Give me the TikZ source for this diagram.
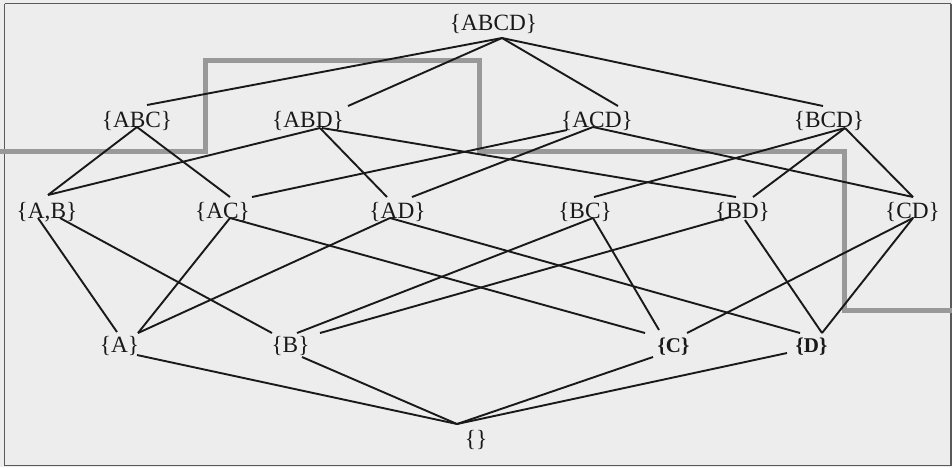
\documentclass[tikz,border=0pt]{standalone}
\usepackage{fontspec}
\setmainfont{Liberation Serif}
\begin{document}
\begin{tikzpicture}[x=1pt,y=-1pt,
  set/.style={inner sep=0pt,anchor=base,text=black!90,font=\fontsize{23.3}{28}\selectfont},
  single/.style={inner sep=0pt,anchor=base,text=black!90,font=\fontsize{21}{25}\selectfont\bfseries},
  link/.style={line width=1.9pt,draw=black!90},
  cut/.style={line width=5pt,draw=black!40},
  frame/.style={line width=1.2pt,draw=black!65}]
\useasboundingbox (0,0) rectangle (952,467);
\fill[black!7] (0,0) rectangle (952,467);
\draw[frame] (4.5,3.5) -- (951,3.5);
\draw[frame] (4.5,3.5) -- (4.5,465.5) -- (951,465.5) -- (951,3.5);

% separating cut through the lattice
\draw[cut] (0,151) -- (205,151) -- (205,60) -- (479,60) -- (479,151)
  -- (844,151) -- (844,310) -- (952,310);

% lattice of subsets
\node[set] (abcd) at (493.5,30) {\{ABCD\}};
\node[set] (abc) at (137,127) {\{ABC\}};
\node[set] (abd) at (308,127) {\{ABD\}};
\node[set] (acd) at (597,127) {\{ACD\}};
\node[set] (bcd) at (829,127) {\{BCD\}};
\node[set] (ab) at (47,218) {\{A,B\}};
\node[set] (ac) at (222.5,218) {\{AC\}};
\node[set] (ad) at (397.5,218) {\{AD\}};
\node[set] (bc) at (585,218) {\{BC\}};
\node[set] (bd) at (742.5,218) {\{BD\}};
\node[set] (cd) at (912.5,218) {\{CD\}};
\node[set] (a) at (119.5,352) {\{A\}};
\node[set] (b) at (290.5,352) {\{B\}};
\node[single] (c) at (673.5,352) {\{C\}};
\node[single] (d) at (811.5,352) {\{D\}};
\node[set] (e) at (476,446) {\{\}};

% top to three-element sets
\draw[link] ([shift={(8.5,8)}]abcd.base) -- ([shift={(10,-22)}]abc.base);
\draw[link] ([shift={(8.5,8)}]abcd.base) -- ([shift={(40,-21)}]abd.base);
\draw[link] ([shift={(8.5,8)}]abcd.base) -- ([shift={(21,-21)}]acd.base);
\draw[link] ([shift={(8.5,8)}]abcd.base) -- ([shift={(-6,-21)}]bcd.base);

% three-element sets to pairs
\draw[link] (abc.base) -- ([shift={(1,-23)}]ab.base);
\draw[link] (abc.base) -- ([shift={(7.5,-21)}]ac.base);
\draw[link] ([shift={(12,1)}]abd.base) -- ([shift={(1,-23)}]ab.base);
\draw[link] ([shift={(12,1)}]abd.base) -- ([shift={(-10.5,-21)}]ad.base);
\draw[link] ([shift={(14,1)}]abd.base) -- ([shift={(-6.5,-21)}]bd.base);
\draw[link] ([shift={(-30,3)}]acd.base) -- ([shift={(29.5,-21)}]ac.base);
\draw[link] ([shift={(-4,0)}]acd.base) -- ([shift={(14.5,-21)}]ad.base);
\draw[link] ([shift={(-4,0)}]acd.base) -- ([shift={(0.5,-21)}]cd.base);
\draw[link] ([shift={(16,1)}]bcd.base) -- ([shift={(9,-21)}]bc.base);
\draw[link] ([shift={(16,1)}]bcd.base) -- ([shift={(10.5,-21)}]bd.base);
\draw[link] ([shift={(16,1)}]bcd.base) -- ([shift={(0.5,-21)}]cd.base);

% pairs to singletons
\draw[link] ([shift={(-9,0)}]ab.base) -- ([shift={(-2.5,-20)}]a.base);
\draw[link] ([shift={(13,0)}]ab.base) -- ([shift={(-18.5,-19)}]b.base);
\draw[link] ([shift={(7.5,0)}]ac.base) -- ([shift={(18.5,-19)}]a.base);
\draw[link] ([shift={(7.5,0)}]ac.base) -- ([shift={(-28.5,-19)}]c.base);
\draw[link] ([shift={(-7.5,0)}]ad.base) -- ([shift={(18.5,-19)}]a.base);
\draw[link] ([shift={(-7.5,0)}]ad.base) -- ([shift={(-11.5,-19)}]d.base);
\draw[link] ([shift={(8,0)}]bc.base) -- ([shift={(6.5,-19)}]b.base);
\draw[link] ([shift={(8,0)}]bc.base) -- ([shift={(-14.5,-22)}]c.base);
\draw[link] ([shift={(-12.5,-1)}]bd.base) -- ([shift={(29.5,-19)}]b.base);
\draw[link] ([shift={(2.5,2)}]bd.base) -- ([shift={(10.5,-19)}]d.base);
\draw[link] ([shift={(0.5,0)}]cd.base) -- ([shift={(13.5,-19)}]c.base);
\draw[link] ([shift={(0.5,0)}]cd.base) -- ([shift={(10.5,-19)}]d.base);

% singletons to the empty set
\draw[link] ([shift={(17.5,3)}]a.base) -- ([shift={(-19,-22)}]e.base);
\draw[link] ([shift={(11.5,5)}]b.base) -- ([shift={(-19,-22)}]e.base);
\draw[link] ([shift={(-20.5,5)}]c.base) -- ([shift={(-19,-22)}]e.base);
\draw[link] ([shift={(-24.5,1)}]d.base) -- ([shift={(-19,-22)}]e.base);
\end{tikzpicture}
\end{document}
